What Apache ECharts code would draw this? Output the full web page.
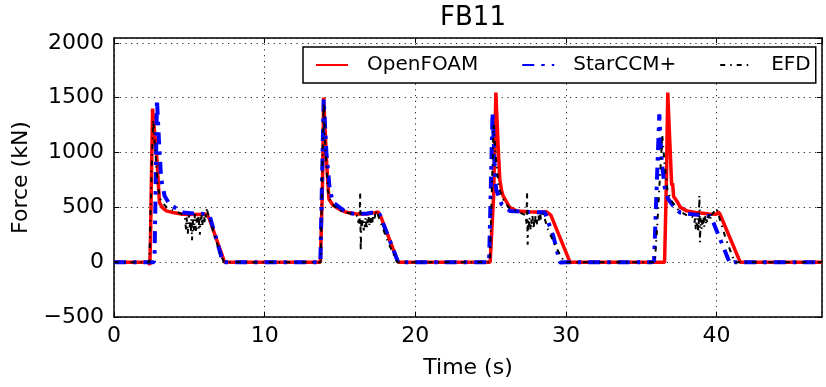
<!DOCTYPE html>
<html>
<head>
<meta charset="utf-8">
<script src="https://cdn.jsdelivr.net/npm/echarts@6/dist/echarts.min.js"></script>
<style>
html,body{margin:0;padding:0;background:#fff;}
#chart{width:826px;height:387px;}
</style>
</head>
<body>
<div id="chart"></div>
<script>
// ---- Data ----
const titleText = "FB11";
const seriesNames = ["OpenFOAM", "StarCCM+", "EFD"];
const xTicks = [0, 10, 20, 30, 40];
const yTicks = [-500, 0, 500, 1000, 1500, 2000];

// OpenFOAM (red)
const ofT = [0, 2.30, 2.38, 2.42, 2.56, 2.62, 2.75, 2.85, 2.95, 3.02, 3.20, 3.47, 4.00, 4.57, 5.30, 6.12, 6.30, 7.34,
  13.70, 13.76, 13.84, 13.92, 14.00, 14.10, 14.18, 14.27, 14.54, 15.00, 15.43, 16.10, 16.80, 17.30, 17.53, 17.70, 18.86,
  24.97, 25.05, 25.20, 25.35, 25.50, 25.61, 25.72, 25.83, 26.28, 26.72, 27.50, 28.20, 28.72, 28.85, 29.00, 30.27,
  36.55, 36.60, 36.68, 36.76, 36.91, 37.02, 37.08, 37.15, 37.36, 37.60, 38.02, 38.80, 39.50, 40.01, 40.10, 40.22, 41.57, 47];
const ofF = [0, 0, -25, 200, 1401, 1300, 1100, 939, 700, 544, 500, 468, 450, 438, 435, 438, 405, 0,
  0, 0, 700, 1501, 1250, 950, 760, 574, 520, 480, 455, 440, 440, 452, 459, 420, 0,
  0, 0, 600, 1547, 1060, 757, 660, 604, 498, 468, 460, 455, 459, 465, 430, 0,
  0, 0, 800, 1547, 1060, 700, 720, 600, 559, 500, 468, 450, 440, 438, 459, 440, 0, 0];

// StarCCM+ (blue)
const scT = [0, 2.65, 2.70, 2.85, 2.98, 3.13, 3.36, 3.69, 4.57, 5.30, 6.12, 6.35, 7.23,
  13.70, 13.76, 13.92, 14.10, 14.32, 14.54, 15.43, 16.10, 16.80, 17.53, 17.65, 18.86,
  24.90, 24.95, 25.13, 25.22, 25.30, 25.37, 25.73, 26.28, 27.50, 28.60, 29.16, 29.60, 29.70, 30.00,
  35.70, 35.85, 35.98, 36.20, 36.36, 36.58, 36.80, 37.13, 37.57, 38.50, 39.57, 39.79, 40.90, 41.00, 41.20, 47];
const scF = [0, 0, 100, 1486, 1121, 757, 604, 529, 453, 445, 440, 422, 0,
  0, 0, 1486, 1000, 665, 544, 453, 438, 445, 459, 430, 0,
  0, 0, 1365, 1060, 757, 665, 529, 468, 458, 453, 240, -3, -18, 0,
  0, 12, 0, 1349, 909, 665, 574, 513, 453, 435, 422, 362, -15, -10, 0, 0];

// EFD (black, noisy measurement), cycle by cycle
const efd1T = [0, 2.35, 2.45, 2.60, 2.75, 2.90, 3.10, 3.50, 4.00, 4.40,
  4.70, 4.74, 4.78, 4.82, 4.86, 4.90, 4.94, 4.98, 5.02, 5.06, 5.10, 5.14, 5.18, 5.22, 5.26, 5.30, 5.34, 5.38, 5.42, 5.46,
  5.50, 5.54, 5.58, 5.62, 5.66, 5.70, 5.74, 5.78, 5.82, 5.86, 5.90, 5.94, 5.98, 6.02, 6.06, 6.10, 6.14, 6.18, 6.22,
  6.35, 6.60, 7.00, 7.30];
const efd1F = [0, 0, 600, 1300, 1000, 700, 560, 500, 470, 445,
  420, 360, 300, 410, 340, 260, 390, 430, 310, 370, 280, 400, 200, 330, 410, 290, 380, 440, 320, 270,
  400, 360, 420, 300, 380, 250, 410, 340, 430, 330, 390, 360, 420, 350, 440, 410, 470, 500, 450,
  400, 280, 100, 0];
const efd2T = [13.72, 13.82, 13.92, 14.05, 14.20, 14.40, 15.00, 15.80,
  16.18, 16.22, 16.26, 16.30, 16.34, 16.38, 16.42, 16.46, 16.50, 16.54, 16.58, 16.62, 16.66, 16.70, 16.74, 16.78,
  16.82, 16.86, 16.90, 16.94, 16.98, 17.02, 17.06, 17.10, 17.14, 17.18, 17.22, 17.26, 17.30, 17.34, 17.38, 17.42, 17.46,
  17.60, 18.20, 18.80];
const efd2F = [0, 800, 1450, 1000, 650, 540, 470, 440,
  420, 360, 400, 330, 640, 100, 380, 310, 400, 340, 290, 380, 320, 410, 350, 300,
  390, 340, 420, 330, 380, 360, 410, 370, 340, 420, 390, 430, 400, 440, 420, 470, 460,
  400, 180, 0];
const efd3T = [24.95, 25.05, 25.20, 25.35, 25.55, 25.80, 26.20, 26.80,
  27.30, 27.34, 27.38, 27.42, 27.46, 27.50, 27.54, 27.58, 27.62, 27.66, 27.70, 27.74, 27.78, 27.82, 27.86, 27.90,
  27.94, 27.98, 28.02, 28.06, 28.10, 28.14, 28.18, 28.22, 28.26, 28.30, 28.34, 28.38, 28.42, 28.46, 28.50, 28.54,
  28.80, 29.40, 29.90];
const efd3F = [0, 500, 1250, 950, 680, 580, 500, 460,
  430, 390, 340, 640, 160, 380, 320, 410, 350, 290, 390, 330, 420, 360, 300, 400,
  350, 420, 370, 330, 410, 380, 430, 360, 400, 440, 390, 420, 410, 440, 430, 420,
  300, 120, 0];
const efd4T = [35.90, 36.05, 36.25, 36.40, 36.55, 36.75, 37.00, 37.50, 38.00,
  38.50, 38.54, 38.58, 38.62, 38.66, 38.70, 38.74, 38.78, 38.82, 38.86, 38.90, 38.94, 38.98, 39.02, 39.06, 39.10,
  39.14, 39.18, 39.22, 39.26, 39.30, 39.34, 39.38, 39.42, 39.46, 39.50, 39.54, 39.58, 39.62, 39.66, 39.70,
  40.00, 40.20, 40.60, 41.20, 47];
const efd4F = [0, 300, 800, 1150, 900, 650, 560, 470, 430,
  410, 360, 420, 300, 380, 330, 400, 270, 350, 610, 180, 400, 340, 300, 390, 350,
  410, 320, 370, 420, 340, 390, 360, 410, 380, 430, 400, 420, 390, 430, 420,
  490, 400, 220, 0, 0];

// ---- Build series data through the axes ----
const pairs = (ts, fs) => ts.map((t, i) => [t, fs[i]]);
const efdT = [].concat(efd1T, efd2T, efd3T, efd4T);
const efdF = [].concat(efd1F, efd2F, efd3F, efd4F);
const FONT = "DejaVu Sans";

const chart = echarts.init(document.getElementById('chart'), null, {renderer: 'canvas'});
const axisCommon = {
  axisLine: {show: true, onZero: false, lineStyle: {color: '#000', width: 1.5}},
  axisTick: {show: true, inside: true, length: 5, lineStyle: {color: '#000', width: 1}},
};
const gridLine = {show: true, lineStyle: {color: '#222', width: 1, type: [1.2, 4.5]}};
chart.setOption({
  animation: false,
  backgroundColor: '#fff',
  title: {
    text: titleText, left: 468, top: 0, textAlign: 'center',
    textStyle: {fontFamily: FONT, fontSize: 26, fontWeight: 'normal', color: '#000'}
  },
  grid: {left: 114, right: 4, top: 38, bottom: 70, containLabel: false},
  legend: {
    left: 303, top: 47, orient: 'horizontal',
    padding: [8, 5, 8, 12], itemGap: 43, itemWidth: 32, itemHeight: 14,
    borderColor: '#000', borderWidth: 1.5, backgroundColor: '#fff', borderRadius: 0,
    itemStyle: {opacity: 0},
    textStyle: {fontFamily: FONT, fontSize: 20, color: '#000', padding: [0, 0, 0, 14]},
    data: seriesNames
  },
  xAxis: [
    Object.assign({
      type: 'value', min: 0, max: 47, interval: 10, position: 'bottom',
      name: 'Time (s)', nameLocation: 'middle', nameGap: 40,
      nameTextStyle: {fontFamily: FONT, fontSize: 22, color: '#000'},
      axisLabel: {fontFamily: FONT, fontSize: 22, color: '#000', margin: 8, showMaxLabel: false,
        formatter: v => xTicks.includes(v) ? String(v) : ''},
      splitLine: gridLine
    }, axisCommon),
    Object.assign({
      type: 'value', min: 0, max: 47, interval: 10, position: 'top',
      axisLabel: {show: false}, splitLine: {show: false}
    }, axisCommon)
  ],
  yAxis: [
    Object.assign({
      type: 'value', min: -500, max: 2045, interval: 500, position: 'left',
      name: 'Force (kN)', nameLocation: 'middle', nameGap: 73,
      nameTextStyle: {fontFamily: FONT, fontSize: 22, color: '#000'},
      axisLabel: {fontFamily: FONT, fontSize: 22, color: '#000', margin: 10, showMaxLabel: false,
        formatter: v => yTicks.includes(v) ? String(v).replace('-', '\u2212') : ''},
      splitLine: gridLine
    }, axisCommon),
    Object.assign({
      type: 'value', min: -500, max: 2045, interval: 500, position: 'right',
      axisLabel: {show: false}, splitLine: {show: false}
    }, axisCommon)
  ],
  series: [
    {
      name: seriesNames[0], type: 'line', data: pairs(ofT, ofF), symbol: 'none',
      xAxisIndex: 0, yAxisIndex: 0,
      lineStyle: {color: '#ff0000', width: 3.5, type: 'solid'}, itemStyle: {color: '#ff0000'}
    },
    {
      name: seriesNames[1], type: 'line', data: pairs(scT, scF), symbol: 'none',
      xAxisIndex: 0, yAxisIndex: 0,
      lineStyle: {color: '#0000ff', width: 4, type: [12, 7, 3.5, 7]}, itemStyle: {color: '#0000ff'}
    },
    {
      name: seriesNames[2], type: 'line', data: pairs(efdT, efdF), symbol: 'none',
      xAxisIndex: 0, yAxisIndex: 0,
      lineStyle: {color: '#000000', width: 2, type: [5, 5, 1.5, 5]}, itemStyle: {color: '#000000'}
    }
  ]
});
</script>
</body>
</html>
